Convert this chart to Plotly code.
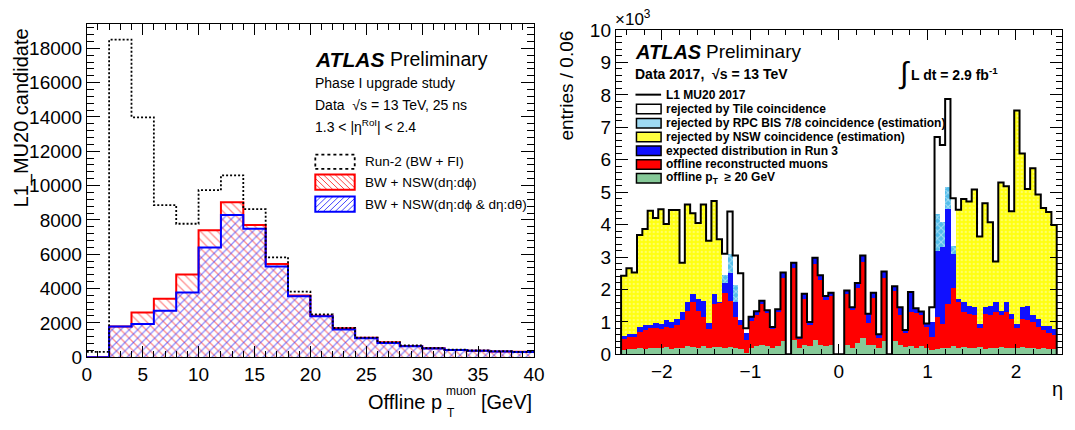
import numpy as np
import plotly.graph_objects as go

# ---------------- Left panel data: L1_MU20 candidates vs offline muon pT ----------------
pt_low = list(range(0, 40, 2))          # bin low edges [GeV]
pt_width = 2
run2_bw_fi = [310, 18500, 13980, 8865, 7775, 9730, 10600, 8625, 5820, 3820,
              2490, 1700, 1145, 870, 680, 535, 440, 390, 350, 310]
bw_nsw_dphi = [0, 1790, 2600, 3400, 4820, 7390, 9030, 7700, 5430, 3600,
               2420, 1680, 1125, 870, 650, 520, 425, 370, 330, 310]
bw_nsw_dphi_dtheta = [0, 1790, 1940, 2710, 3770, 6390, 8290, 7480, 5280, 3545,
                      2380, 1610, 1110, 830, 630, 500, 425, 370, 330, 295]

# ---------------- Right panel data: entries / 0.06 (x10^3) vs eta ----------------
eta_first = -2.46
eta_width = 0.06
l1_mu20 = [2.42, 2.65, 2.52, 3.68, 3.86, 4.43, 4.20, 4.47, 4.02, 4.45,
           4.45, 2.82, 4.62, 4.35, 4.05, 4.62, 3.50, 4.73, 3.55, 3.10,
           4.40, 3.05, 2.50, 0.80, 1.16, 1.33, 1.65, 1.36, 0.84, 1.39,
           2.52, 0.00, 2.82, 0.52, 1.87, 1.00, 2.98, 2.44, 1.80, 1.90,
           0.00, 0.00, 1.97, 1.45, 2.20, 3.05, 1.25, 1.90, 0.62, 2.55,
           0.00, 2.10, 1.45, 0.75, 1.92, 1.42, 1.32, 0.95, 1.45, 6.70,
           6.45, 7.87, 4.81, 4.46, 4.79, 4.71, 5.08, 3.63, 4.66, 4.07,
           2.86, 5.30, 5.18, 4.41, 7.52, 6.19, 5.10, 5.74, 4.93, 4.51,
           4.39, 3.99]
after_tile = [2.42, 2.65, 2.52, 3.68, 3.86, 4.43, 4.20, 4.47, 4.02, 4.45,
              4.45, 2.82, 4.62, 4.35, 4.05, 4.62, 3.50, 4.73, 3.55, 2.45,
              3.10, 2.15, 1.05, 0.65, 1.16, 1.33, 1.65, 1.36, 0.84, 1.39,
              2.52, 0.00, 2.82, 0.52, 1.87, 1.00, 2.98, 2.44, 1.80, 1.90,
              0.00, 0.00, 1.97, 1.45, 2.20, 3.05, 1.25, 1.90, 0.62, 2.55,
              0.00, 2.10, 1.45, 0.75, 1.92, 1.42, 1.32, 0.95, 1.00, 4.34,
              4.07, 5.15, 3.33, 4.46, 4.79, 4.71, 5.08, 3.63, 4.66, 4.07,
              2.86, 5.30, 5.18, 4.41, 7.52, 6.19, 5.10, 5.74, 4.93, 4.51,
              4.39, 3.99]
after_rpc = [2.42, 2.65, 2.52, 3.68, 3.86, 4.43, 4.20, 4.47, 4.02, 4.45,
             4.45, 2.82, 4.62, 4.35, 4.05, 4.62, 3.50, 4.73, 3.55, 2.20,
             2.50, 1.60, 1.05, 0.65, 1.16, 1.33, 1.65, 1.36, 0.84, 1.39,
             2.52, 0.00, 2.82, 0.52, 1.87, 1.00, 2.98, 2.44, 1.80, 1.90,
             0.00, 0.00, 1.97, 1.45, 2.20, 3.05, 1.25, 1.90, 0.62, 2.55,
             0.00, 2.10, 1.45, 0.75, 1.92, 1.42, 1.32, 0.95, 1.00, 3.20,
             3.30, 4.49, 3.08, 4.46, 4.79, 4.71, 5.08, 3.63, 4.66, 4.07,
             2.86, 5.30, 5.18, 4.41, 7.52, 6.19, 5.10, 5.74, 4.93, 4.51,
             4.39, 3.99]
run3 = [0.58, 0.62, 0.62, 0.85, 0.90, 0.90, 0.97, 0.93, 1.05, 1.00,
        1.10, 1.30, 1.60, 1.85, 1.70, 1.65, 0.97, 1.85, 1.62, 2.20,
        2.50, 1.60, 1.05, 0.65, 1.16, 1.33, 1.65, 1.36, 0.84, 1.39,
        2.52, 0.00, 2.82, 0.52, 1.87, 1.00, 2.98, 2.44, 1.80, 1.90,
        0.00, 0.00, 1.97, 1.45, 2.20, 3.05, 1.25, 1.90, 0.62, 2.55,
        0.00, 2.10, 1.45, 0.75, 1.92, 1.42, 1.32, 0.95, 1.00, 3.20,
        3.30, 4.49, 3.08, 1.70, 1.60, 1.50, 1.45, 0.95, 1.45, 1.50,
        1.60, 1.35, 1.62, 1.25, 0.95, 1.45, 1.48, 1.20, 1.08, 0.86,
        0.86, 0.78]
offline = [0.48, 0.52, 0.55, 0.70, 0.75, 0.80, 0.82, 0.77, 0.85, 0.80,
           0.90, 1.05, 1.35, 1.60, 1.35, 1.15, 0.78, 1.55, 1.58, 1.90,
           1.65, 1.15, 0.92, 0.45, 1.02, 1.20, 1.55, 1.28, 0.78, 1.30,
           2.35, 0.00, 2.65, 0.48, 1.72, 0.92, 2.78, 2.28, 1.68, 1.80,
           0.00, 0.00, 1.85, 1.38, 2.05, 2.85, 0.98, 1.75, 0.50, 2.35,
           0.00, 1.95, 1.20, 0.65, 1.30, 1.28, 1.20, 0.85, 0.52, 1.15,
           0.95, 1.55, 2.05, 1.60, 1.30, 1.25, 1.20, 0.80, 1.25, 1.20,
           1.30, 1.20, 1.30, 1.10, 0.80, 1.10, 1.05, 1.00, 0.85, 0.75,
           0.67, 0.60]
offline_pt20 = [0.12, 0.15, 0.15, 0.20, 0.18, 0.20, 0.20, 0.20, 0.22, 0.18,
                0.20, 0.20, 0.25, 0.22, 0.20, 0.25, 0.20, 0.22, 0.22, 0.20,
                0.22, 0.20, 0.15, 0.05, 0.20, 0.25, 0.30, 0.25, 0.20, 0.25,
                0.42, 0.00, 0.45, 0.20, 0.30, 0.25, 0.45, 0.30, 0.25, 0.30,
                0.00, 0.00, 0.30, 0.20, 0.35, 0.50, 0.30, 0.30, 0.20, 0.40,
                0.00, 0.42, 0.28, 0.22, 0.25, 0.20, 0.25, 0.20, 0.12, 0.15,
                0.20, 0.20, 0.25, 0.20, 0.22, 0.20, 0.20, 0.22, 0.18, 0.20,
                0.20, 0.22, 0.20, 0.20, 0.20, 0.22, 0.20, 0.20, 0.18, 0.20,
                0.18, 0.15]

# ---------------- geometry helpers ----------------
W, H = 1075, 430
FONT = "Liberation Sans"


def px(x):
    return x / W


def py(y):
    return 1 - y / H


L_X0, L_X1, L_Y0, L_Y1 = 83, 537, 15, 365
R_X0, R_X1, R_Y0, R_Y1 = 620, 1073, 21, 362
CLEAR = "rgba(0,0,0,0)"

fig = go.Figure()

# ---------------- Left panel ----------------
pt_centers = [lo + pt_width / 2 for lo in pt_low]
pt_edges = pt_low + [pt_low[-1] + pt_width]

fig.add_trace(go.Bar(x=pt_centers, y=bw_nsw_dphi, width=pt_width,
                     marker=dict(color=CLEAR, line=dict(width=0),
                                 pattern=dict(shape="\\", size=6, solidity=0.22,
                                              fgcolor="#FF2020", bgcolor=CLEAR,
                                              fillmode="overlay")),
                     xaxis="x", yaxis="y"))
fig.add_trace(go.Bar(x=pt_centers, y=bw_nsw_dphi_dtheta, width=pt_width,
                     marker=dict(color=CLEAR, line=dict(width=0),
                                 pattern=dict(shape="/", size=6, solidity=0.22,
                                              fgcolor="#2020FF", bgcolor=CLEAR,
                                              fillmode="overlay")),
                     xaxis="x", yaxis="y"))

for vals, col, dash, wd in [(bw_nsw_dphi, "#FF0000", "solid", 2),
                            (bw_nsw_dphi_dtheta, "#0000FF", "solid", 2),
                            (run2_bw_fi, "black", "2px,2px", 1.8)]:
    xs = list(pt_edges)
    ys = list(vals) + [vals[-1]]
    fig.add_trace(go.Scatter(x=xs, y=ys, mode="lines", line_shape="hv",
                             line=dict(color=col, width=wd, dash=dash),
                             xaxis="x", yaxis="y"))

# ---------------- Right panel ----------------
n_eta = len(l1_mu20)
eta_centers = [eta_first + eta_width * (i + 0.5) for i in range(n_eta)]
eta_edges = [eta_first + eta_width * i for i in range(n_eta + 1)]

layers = [
    (l1_mu20, dict(color="white")),
    (after_tile, dict(color="#52BDEB", pattern=dict(shape="x", fgcolor="white", size=5,
                                                    solidity=0.35, fillmode="overlay"))),
    (after_rpc, dict(color="#FFFF10", pattern=dict(shape=".", fgcolor="#FFFFB8", size=4,
                                                   solidity=0.3, fillmode="overlay"))),
    (run3, dict(color="#1010FF")),
    (offline, dict(color="#FF0000")),
    (offline_pt20, dict(color="#86C998")),
]
for vals, mk in layers:
    mk = dict(mk)
    mk["line"] = dict(width=0)
    fig.add_trace(go.Bar(x=eta_centers, y=vals, width=eta_width, marker=mk,
                         xaxis="x2", yaxis="y2"))

xs = [eta_edges[0]] + eta_edges + [eta_edges[-1]]
ys = [0] + l1_mu20 + [l1_mu20[-1], 0]
fig.add_trace(go.Scatter(x=xs, y=ys, mode="lines", line_shape="hv",
                         line=dict(color="black", width=2), xaxis="x2", yaxis="y2"))


# ---------------- axes ----------------
def axis_style(rng, dtick, mdtick, major_len, minor_len, domain, anchor):
    return dict(range=rng, dtick=dtick, tick0=0, domain=domain, anchor=anchor,
                showline=True, linecolor="black", linewidth=1, mirror="allticks",
                ticks="inside", ticklen=major_len, tickwidth=1, tickcolor="black",
                minor=dict(ticks="inside", ticklen=minor_len, dtick=mdtick,
                           tickcolor="black", tickwidth=1, tick0=0),
                showgrid=False, zeroline=False,
                tickfont=dict(family=FONT, size=19, color="black"))


xdomL = [px(L_X0), px(L_X1)]
ydomL = [py(L_Y1), py(L_Y0)]
xdomR = [px(R_X0), px(R_X1)]
ydomR = [py(R_Y1), py(R_Y0)]

fig.update_layout(
    xaxis=axis_style([0, 40], 5, 1, 11, 6, xdomL, "y"),
    yaxis=dict(axis_style([0, 19400], 2000, 400, 13, 7, ydomL, "x"), tickformat="d"),
    xaxis2=axis_style([-2.52, 2.52], 1, 0.2, 10, 5, xdomR, "y2"),
    yaxis2=axis_style([0, 10], 1, 0.2, 12, 6, ydomR, "x2"),
)

# ---------------- annotations / legends ----------------
ann = []
shapes = []


def text(x, y, s, size, xanchor="left", yanchor="middle", angle=0):
    ann.append(dict(x=px(x), y=py(y), xref="paper", yref="paper", text=s, showarrow=False,
                    xanchor=xanchor, yanchor=yanchor, textangle=angle,
                    font=dict(family=FONT, size=size, color="black")))


def rect(x0, y0, x1, y1, fill=CLEAR, color="black", width=1.5, dash="solid"):
    shapes.append(dict(type="rect", xref="paper", yref="paper", x0=px(x0), x1=px(x1),
                       y0=py(y1), y1=py(y0), fillcolor=fill,
                       line=dict(color=color, width=width, dash=dash)))


def line(x0, y0, x1, y1, color="black", width=1):
    shapes.append(dict(type="line", xref="paper", yref="paper", x0=px(x0), x1=px(x1),
                       y0=py(y0), y1=py(y1), line=dict(color=color, width=width)))


def hatch(x0, y0, x1, y1, spacing, direction, color):
    # direction '\\' : x - y = c ; '/' : x + y = c (screen coords)
    if direction == "\\":
        c = x0 - y1
        while c <= x1 - y0:
            t0, t1 = max(x0, y0 + c), min(x1, y1 + c)
            if t1 > t0:
                line(t0, t0 - c, t1, t1 - c, color, 0.9)
            c += spacing
    else:
        c = x0 + y0
        while c <= x1 + y1:
            t0, t1 = max(x0, c - y1), min(x1, c - y0)
            if t1 > t0:
                line(t0, c - t0, t1, c - t1, color, 0.9)
            c += spacing


# left texts
text(313, 52, "<b><i>ATLAS</i></b>", 21)
text(389, 52, "Preliminary", 19.5)
text(313, 77, "Phase I upgrade study", 14)
text(313, 100, "Data  √s = 13 TeV, 25 ns", 14)
text(313, 122, "1.3 < |η<sup>RoI</sup>| < 2.4", 14)
rect(315, 152, 355, 167, "white", "black", 1.8, "dot")
hatch(315, 173, 355, 189, 6, "\\", "#FF3030")
rect(315, 173, 355, 189, CLEAR, "#FF0000", 2)
hatch(315, 196, 355, 212, 6, "/", "#3030FF")
rect(315, 196, 355, 212, CLEAR, "#0000FF", 2)
text(363, 159, "Run-2 (BW + FI)", 13.5)
text(363, 181, "BW + NSW(dη:dϕ)", 13.5)
text(363, 204, "BW + NSW(dη:dϕ & dη:dθ)", 13.5)
text(17, 17, "L1_MU20 candidate", 20, "center", "top", -90)
# x title with stacked sub/superscript
text(446, 412, "Offline p", 20, "right")
text(446, 401, "muon", 12)
text(447, 424, "T", 12)
text(537, 412, "[GeV]", 20, "right")

# right texts
text(617, 8, "×10<sup>3</sup>", 17)
text(637, 44, "<b><i>ATLAS</i></b>", 20)
text(710, 44, "Preliminary", 19)
text(637, 67, "<b>Data 2017,  √s = 13 TeV</b>", 14)
text(913, 66, "∫", 30, "center")
text(918, 67, "<b>L dt = 2.9 fb<sup>-1</sup></b>", 14)
line(640, 89, 666, 89, "black", 2)
rect(641, 99, 666, 109, "white", "black", 1.5)
rect(641, 114, 666, 124, "#9ED9F2", "black", 1.5)
rect(641, 128.5, 666, 138.5, "#FFFF40", "black", 1.5)
rect(641, 143, 666, 153, "#1010FF", "black", 1.5)
rect(641, 157.5, 666, 167.5, "#FF0000", "black", 1.5)
rect(641, 172, 666, 182, "#86C998", "black", 1.5)
for yy, s in [(89, "L1 MU20 2017"), (104, "rejected by Tile coincidence"),
              (119, "rejected by RPC BIS 7/8 coincidence (estimation)"),
              (133, "rejected by NSW coincidence (estimation)"),
              (148, "expected distribution in Run 3"),
              (162, "offline reconstructed muons"),
              (177, "offline p<sub>T</sub>  ≥ 20 GeV")]:
    text(669, yy, "<b>" + s + "</b>", 12)
text(570, 20, "entries / 0.06", 19, "center", "top", -90)
text(1068, 398, "η", 20, "center")

fig.update_layout(
    width=W, height=H, margin=dict(l=0, r=0, t=0, b=0),
    paper_bgcolor="white", plot_bgcolor="white",
    barmode="overlay", bargap=0, showlegend=False,
    annotations=ann, shapes=shapes,
)

fig.write_html("out.html")
